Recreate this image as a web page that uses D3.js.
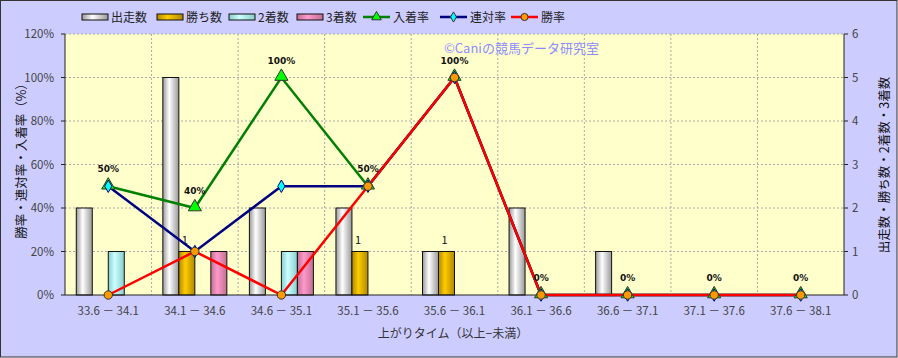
<!DOCTYPE html>
<html><head><meta charset="utf-8">
<script src="https://cdn.jsdelivr.net/npm/d3@7"></script>
<style>body{margin:0;background:#fff}svg{display:block}</style>
</head><body>
<script>
const categories = ["33.6 － 34.1","34.1 － 34.6","34.6 － 35.1","35.1 － 35.6","35.6 － 36.1","36.1 － 36.6","36.6 － 37.1","37.1 － 37.6","37.6 － 38.1"];
const runs   = [2,5,2,2,1,2,1,0,0];
const wins   = [0,1,0,1,1,0,0,0,0];
const second = [1,0,1,0,0,0,0,0,0];
const third  = [0,1,1,0,0,0,0,0,0];
const placeRate = [50,40,100,50,100,0,0,0,0];
const quinRate  = [50,20,50,50,100,0,0,0,0];
const winRate   = [0,20,0,50,100,0,0,0,0];
const leftTicks = [0,20,40,60,80,100,120];
const rightTicks = [0,1,2,3,4,5,6];

const W=898,H=358;
const svg=d3.select("body").append("svg").attr("width",W).attr("height",H);
const font="'Noto Sans CJK JP','Noto Sans',sans-serif";
svg.append("rect").attr("x",0.5).attr("y",0.5).attr("width",W-1.5).attr("height",H-1.5).attr("fill","#ccccff").attr("stroke","#333").attr("stroke-width",1);

const L=65,R=844,T=34,B=295;
const x=d3.scaleBand().domain(categories).range([L,R]);
const yL=d3.scaleLinear().domain([0,120]).range([B,T]);
const yR=d3.scaleLinear().domain([0,6]).range([B,T]);

const defs=svg.append("defs");
function grad(id,dark,mid){
  const g=defs.append("linearGradient").attr("id",id).attr("x1","0%").attr("x2","100%");
  g.append("stop").attr("offset","0%").attr("stop-color",dark);
  g.append("stop").attr("offset","40%").attr("stop-color",mid);
  g.append("stop").attr("offset","100%").attr("stop-color",dark);
}
grad("gRun","#999","#ffffff");
grad("gWin","#b08800","#ffcc00");
grad("g2","#8cc","#ccffff");
grad("g3","#c07090","#ff99cc");

svg.append("rect").attr("x",L).attr("y",T).attr("width",R-L).attr("height",B-T).attr("fill","#ffffcc");
// grid
svg.append("g").selectAll("line").data(leftTicks.slice(1)).join("line")
  .attr("x1",L).attr("x2",R).attr("y1",d=>yL(d)).attr("y2",d=>yL(d))
  .attr("stroke","#aaa").attr("stroke-dasharray","2,2");
svg.append("g").selectAll("line").data(categories.slice(1)).join("line")
  .attr("x1",d=>x(d)).attr("x2",d=>x(d)).attr("y1",T).attr("y2",B)
  .attr("stroke","#aaa").attr("stroke-dasharray","2,2");

// watermark
svg.append("text").attr("x",444).attr("y",53).text("©Caniの競馬データ研究室")
  .attr("font-family",font).attr("font-size",13).attr("fill","#8c8cff");

// bars
const bw=16;
const series=[{d:runs,f:"url(#gRun)"},{d:wins,f:"url(#gWin)"},{d:second,f:"url(#g2)"},{d:third,f:"url(#g3)"}];
const gb=svg.append("g");
series.forEach((s,si)=>{
  gb.selectAll(null).data(categories.map((c,i)=>({c,v:s.d[i]})).filter(o=>o.v>0)).join("rect")
    .attr("x",o=>x(o.c)+x.bandwidth()/2-2*bw+si*bw).attr("y",o=>yR(o.v))
    .attr("width",bw).attr("height",o=>B-yR(o.v))
    .attr("fill",s.f).attr("stroke","#111").attr("stroke-width",1);
});
// win count labels
svg.append("g").selectAll("text").data(categories.map((c,i)=>({c,v:wins[i]})).filter(o=>o.v>0)).join("text")
  .attr("x",o=>x(o.c)+x.bandwidth()/2-bw/2-2).attr("y",o=>yR(o.v)-8)
  .attr("text-anchor","middle").attr("font-family",font).attr("font-size",11).attr("fill","#111").text(o=>o.v);

// axes
svg.append("line").attr("x1",L).attr("x2",L).attr("y1",T).attr("y2",B).attr("stroke","#222");
svg.append("line").attr("x1",R).attr("x2",R).attr("y1",T).attr("y2",B).attr("stroke","#222");
svg.append("line").attr("x1",L).attr("x2",R).attr("y1",B).attr("y2",B).attr("stroke","#222");
svg.append("g").selectAll("line").data(leftTicks).join("line").attr("x1",L-4).attr("x2",L).attr("y1",d=>yL(d)).attr("y2",d=>yL(d)).attr("stroke","#222");
svg.append("g").selectAll("line").data(rightTicks).join("line").attr("x1",R).attr("x2",R+4).attr("y1",d=>yR(d)).attr("y2",d=>yR(d)).attr("stroke","#222");
svg.append("g").selectAll("text").data(leftTicks).join("text")
  .attr("x",54).attr("y",d=>yL(d)+4).attr("text-anchor","end")
  .attr("font-family",font).attr("font-size",11.5).attr("fill","#444").text(d=>d+"%");
svg.append("g").selectAll("text").data(rightTicks).join("text")
  .attr("x",852).attr("y",d=>yR(d)+4).attr("text-anchor","start")
  .attr("font-family",font).attr("font-size",11.5).attr("fill","#444").text(d=>d);
svg.append("g").selectAll("text").data(categories).join("text")
  .attr("x",d=>x(d)+x.bandwidth()/2).attr("y",315).attr("text-anchor","middle")
  .attr("font-family",font).attr("font-size",11.5).attr("fill","#444").text(d=>d);
svg.append("text").attr("x",453).attr("y",338).attr("text-anchor","middle")
  .attr("font-family",font).attr("font-size",12).attr("fill","#333").text("上がりタイム（以上−未満）");
svg.append("text").attr("transform","translate(26,158) rotate(-90)").attr("text-anchor","middle")
  .attr("font-family",font).attr("font-size",12.5).attr("fill","#111").text("勝率・連対率・入着率（%）");
svg.append("text").attr("transform","translate(889,165) rotate(-90)").attr("text-anchor","middle")
  .attr("font-family",font).attr("font-size",12.5).attr("fill","#111").text("出走数・勝ち数・2着数・3着数");

// lines
const cx=c=>x(c)+x.bandwidth()/2;
const line=d3.line().x(d=>cx(d.c)).y(d=>yL(d.v));
const mk=arr=>categories.map((c,i)=>({c,v:arr[i]}));
const sym={tri:d3.symbol().type(d3.symbolTriangle).size(75),dia:d3.symbol().type(d3.symbolDiamond).size(45),cir:d3.symbol().type(d3.symbolCircle).size(55)};
const lineSeries=[
  {d:placeRate,c:"#008000",m:"tri",mf:"#00ff00"},
  {d:quinRate,c:"#000080",m:"dia",mf:"#00ffff"},
  {d:winRate,c:"#ff0000",m:"cir",mf:"#ff9900"}];
lineSeries.forEach(s=>{
  svg.append("path").attr("d",line(mk(s.d))).attr("fill","none").attr("stroke",s.c).attr("stroke-width",2.5);
});
lineSeries.forEach(s=>{
  svg.append("g").selectAll("path").data(mk(s.d)).join("path")
    .attr("transform",d=>`translate(${cx(d.c)},${yL(d.v)+(s.m==="tri"?-1:0)})`)
    .attr("d",sym[s.m]()).attr("fill",s.mf).attr("stroke",s.m==="dia"?"#006":"#333").attr("stroke-width",1);
});
// place rate labels
svg.append("g").selectAll("text").data(mk(placeRate)).join("text")
  .attr("x",d=>cx(d.c)).attr("y",d=>yL(d.v)-14).attr("text-anchor","middle")
  .attr("font-family","'DejaVu Sans',sans-serif").attr("font-weight","bold").attr("font-size",9).attr("fill","#111").text(d=>d.v+"%");

// legend
const lg=svg.append("g").attr("font-family",font).attr("font-size",12).attr("fill","#222");
const barLeg=[["出走数","url(#gRun)",82],["勝ち数","url(#gWin)",157],["2着数","url(#g2)",229],["3着数","url(#g3)",297]];
barLeg.forEach(([t,f,px])=>{
  lg.append("rect").attr("x",px).attr("y",14).attr("width",26).attr("height",6).attr("fill",f).attr("stroke","#111");
  lg.append("text").attr("x",px+29).attr("y",22).text(t);
});
const lineLeg=[["入着率","#008000","tri","#00ff00",363],["連対率","#000080","dia","#00ffff",440],["勝率","#ff0000","cir","#ff9900",511]];
lineLeg.forEach(([t,c,m,mf,px])=>{
  lg.append("line").attr("x1",px).attr("x2",px+27).attr("y1",17).attr("y2",17).attr("stroke",c).attr("stroke-width",2.5);
  lg.append("path").attr("transform",`translate(${px+13.5},17)`).attr("d",d3.symbol().type(m==="tri"?d3.symbolTriangle:m==="dia"?d3.symbolDiamond:d3.symbolCircle).size(m==="dia"?30:40)())
    .attr("fill",mf).attr("stroke","#333");
  lg.append("text").attr("x",px+30).attr("y",22).text(t);
});
</script>
</body></html>
